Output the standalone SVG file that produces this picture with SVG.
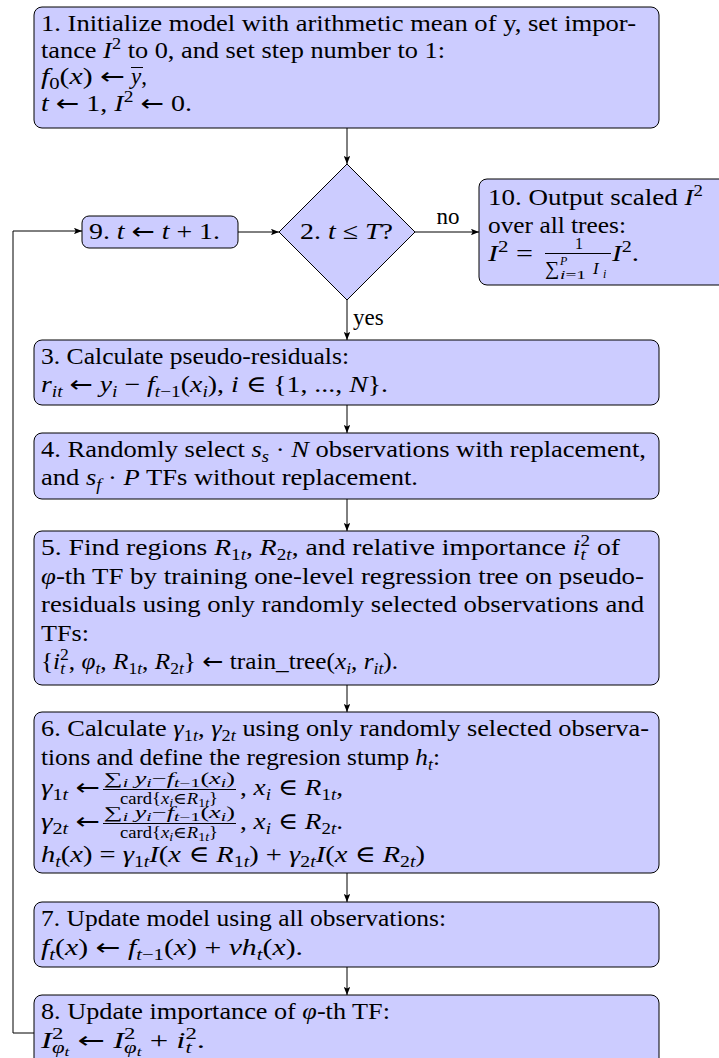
<svg xmlns="http://www.w3.org/2000/svg" width="719" height="1058" viewBox="0 0 719 1058">
<style>
.bx{fill:#ccccff;stroke:#000;stroke-width:1}
.t{font-family:"Liberation Serif","Times New Roman","DejaVu Serif",serif;font-size:23px;fill:#000}
.f{font-family:"Liberation Serif","Times New Roman","DejaVu Serif",serif;font-size:16px;fill:#000}
.i{font-style:italic}
.ar{font-family:"DejaVu Sans",sans-serif;font-style:normal}
.b{font-size:16px;baseline-shift:-5px}
.p{font-size:16px;baseline-shift:9px}
.bs{font-size:12px;baseline-shift:-3px}
.c{fill:none;stroke:#000;stroke-width:1}
</style>
<defs>
<marker id="ah" viewBox="0 0 10 8" refX="10" refY="4" markerWidth="8" markerHeight="6.4" markerUnits="userSpaceOnUse" orient="auto">
<path d="M0,0 L10,4 L0,8 L2,4 z" fill="#000"/>
</marker>
</defs>

<g id="connectors" class="c">
<path d="M347,128 V164" marker-end="url(#ah)"/>
<path d="M347,300 V340" marker-end="url(#ah)"/>
<path d="M347,405 V433" marker-end="url(#ah)"/>
<path d="M347,499 V531" marker-end="url(#ah)"/>
<path d="M347,685 V712" marker-end="url(#ah)"/>
<path d="M347,873 V902" marker-end="url(#ah)"/>
<path d="M347,967 V995" marker-end="url(#ah)"/>
<path d="M34,1033 H13 V231 H82" marker-end="url(#ah)"/>
<path d="M238,232 H279" marker-end="url(#ah)"/>
<path d="M415,232 H479" marker-end="url(#ah)"/>
</g>
<g id="edge-labels">
<text class="t" x="448" y="224" text-anchor="middle">no</text>
<text class="t" x="353" y="325">yes</text>
</g>

<g id="node-1">
<rect class="bx" x="34" y="7" width="625" height="121" rx="8"/>
<text class="t" x="41" y="31" textLength="595" lengthAdjust="spacingAndGlyphs">1. Initialize model with arithmetic mean of y, set impor-</text>
<text class="t" x="41" y="57.5" textLength="404" lengthAdjust="spacingAndGlyphs">tance <tspan class="i">I</tspan><tspan class="p">2</tspan> to 0, and set step number to 1:</text>
<text class="t" x="41" y="84" textLength="84" lengthAdjust="spacingAndGlyphs"><tspan class="i">f</tspan><tspan class="b">0</tspan>(<tspan class="i">x</tspan>) <tspan class="ar">←</tspan></text>
<text class="t" x="131" y="84"><tspan class="i">y</tspan>,</text>
<line x1="131" y1="67.5" x2="143" y2="67.5" stroke="#000" stroke-width="1"/>
<text class="t" x="41" y="110.5" textLength="151" lengthAdjust="spacingAndGlyphs"><tspan class="i">t</tspan> <tspan class="ar">←</tspan> 1, <tspan class="i">I</tspan><tspan class="p">2</tspan> <tspan class="ar">←</tspan> 0.</text>
</g>

<g id="node-2">
<polygon class="bx" points="347,164 415,232 347,300 279,232"/>
<text class="t" x="300" y="239" textLength="93" lengthAdjust="spacingAndGlyphs">2. <tspan class="i">t</tspan> ≤ <tspan class="i">T</tspan>?</text>
</g>

<g id="node-9">
<rect class="bx" x="82" y="216" width="156" height="32" rx="7"/>
<text class="t" x="89" y="239" textLength="131" lengthAdjust="spacingAndGlyphs">9. <tspan class="i">t</tspan> <tspan class="ar">←</tspan> <tspan class="i">t</tspan> + 1.</text>
</g>

<g id="node-10">
<rect class="bx" x="479" y="179" width="260" height="106" rx="8"/>
<text class="t" x="488" y="205" textLength="215" lengthAdjust="spacingAndGlyphs">10. Output scaled <tspan class="i">I</tspan><tspan class="p">2</tspan></text>
<text class="t" x="488" y="233" textLength="138" lengthAdjust="spacingAndGlyphs">over all trees:</text>
<text class="t" x="488" y="261" textLength="45" lengthAdjust="spacingAndGlyphs"><tspan class="i">I</tspan><tspan class="p">2</tspan> =</text>
<text class="f" x="579" y="249" text-anchor="middle">1</text>
<line x1="545" y1="253.5" x2="611" y2="253.5" stroke="#000" stroke-width="1"/>
<text class="f" x="545" y="275" style="font-size:20px">∑</text>
<text class="f i" x="560" y="265" style="font-size:12px">P</text>
<text class="f" x="560" y="279" style="font-size:13px" textLength="26" lengthAdjust="spacingAndGlyphs"><tspan class="i">i</tspan>=1</text>
<text class="f i" x="593" y="274" style="font-size:17px">I</text>
<text class="f i" x="603" y="278" style="font-size:12px">i</text>
<text class="t" x="612" y="261" textLength="27" lengthAdjust="spacingAndGlyphs"><tspan class="i">I</tspan><tspan class="p">2</tspan>.</text>
</g>

<g id="node-3">
<rect class="bx" x="34" y="340" width="625" height="65" rx="8"/>
<text class="t" x="41" y="364" textLength="308" lengthAdjust="spacingAndGlyphs">3. Calculate pseudo-residuals:</text>
<text class="t" x="41" y="392" textLength="347" lengthAdjust="spacingAndGlyphs"><tspan class="i">r</tspan><tspan class="b i">it</tspan> <tspan class="ar">←</tspan> <tspan class="i">y</tspan><tspan class="b i">i</tspan> − <tspan class="i">f</tspan><tspan class="b"><tspan class="i">t</tspan>−1</tspan>(<tspan class="i">x</tspan><tspan class="b i">i</tspan>), <tspan class="i">i</tspan> ∈ {1, ..., <tspan class="i">N</tspan>}.</text>
</g>

<g id="node-4">
<rect class="bx" x="34" y="433" width="625" height="66" rx="8"/>
<text class="t" x="41" y="457" textLength="605" lengthAdjust="spacingAndGlyphs">4. Randomly select <tspan class="i">s</tspan><tspan class="b i">s</tspan> · <tspan class="i">N</tspan> observations with replacement,</text>
<text class="t" x="41" y="485" textLength="377" lengthAdjust="spacingAndGlyphs">and <tspan class="i">s</tspan><tspan class="b i">f</tspan> · <tspan class="i">P</tspan> TFs without replacement.</text>
</g>

<g id="node-5">
<rect class="bx" x="34" y="531" width="625" height="154" rx="8"/>
<text class="t" x="41" y="555" textLength="579" lengthAdjust="spacingAndGlyphs">5. Find regions <tspan class="i">R</tspan><tspan class="b">1<tspan class="i">t</tspan></tspan>, <tspan class="i">R</tspan><tspan class="b">2<tspan class="i">t</tspan></tspan>, and relative importance <tspan class="i">i</tspan><tspan class="b i">t</tspan><tspan class="p" dx="-4.5">2</tspan> of</text>
<text class="t" x="41" y="583.5" textLength="603" lengthAdjust="spacingAndGlyphs"><tspan class="i">φ</tspan>-th TF by training one-level regression tree on pseudo-</text>
<text class="t" x="41" y="612" textLength="603" lengthAdjust="spacingAndGlyphs">residuals using only randomly selected observations and</text>
<text class="t" x="41" y="640.5" textLength="48" lengthAdjust="spacingAndGlyphs">TFs:</text>
<text class="t" x="41" y="669" textLength="357" lengthAdjust="spacingAndGlyphs">{<tspan class="i">i</tspan><tspan class="b i">t</tspan><tspan class="p" dx="-4.5">2</tspan>, <tspan class="i">φ</tspan><tspan class="b i">t</tspan>, <tspan class="i">R</tspan><tspan class="b">1<tspan class="i">t</tspan></tspan>, <tspan class="i">R</tspan><tspan class="b">2<tspan class="i">t</tspan></tspan>} <tspan class="ar">←</tspan> train_tree(<tspan class="i">x</tspan><tspan class="b i">i</tspan>, <tspan class="i">r</tspan><tspan class="b i">it</tspan>).</text>
</g>

<g id="node-6">
<rect class="bx" x="34" y="712" width="625" height="161" rx="8"/>
<text class="t" x="41" y="736" textLength="608" lengthAdjust="spacingAndGlyphs">6. Calculate <tspan class="i">γ</tspan><tspan class="b">1<tspan class="i">t</tspan></tspan>, <tspan class="i">γ</tspan><tspan class="b">2<tspan class="i">t</tspan></tspan> using only randomly selected observa-</text>
<text class="t" x="41" y="764.5" textLength="399" lengthAdjust="spacingAndGlyphs">tions and define the regresion stump <tspan class="i">h</tspan><tspan class="b i">t</tspan>:</text>
<text class="t" x="41" y="795" textLength="59" lengthAdjust="spacingAndGlyphs"><tspan class="i">γ</tspan><tspan class="b">1<tspan class="i">t</tspan></tspan> <tspan class="ar">←</tspan></text>
<text class="f" x="104" y="784" textLength="131" lengthAdjust="spacingAndGlyphs">∑<tspan class="bs i">i</tspan> <tspan class="i">y</tspan><tspan class="bs i">i</tspan>−<tspan class="i">f</tspan><tspan class="bs"><tspan class="i">t</tspan>−1</tspan>(<tspan class="i">x</tspan><tspan class="bs i">i</tspan>)</text>
<line x1="103" y1="789.5" x2="236" y2="789.5" stroke="#000" stroke-width="1"/>
<text class="f" x="120" y="804" textLength="98" lengthAdjust="spacingAndGlyphs">card{<tspan class="i">x</tspan><tspan class="bs i">i</tspan>∈<tspan class="i">R</tspan><tspan class="bs">1<tspan class="i">t</tspan></tspan>}</text>
<text class="t" x="240" y="795" textLength="103" lengthAdjust="spacingAndGlyphs">, <tspan class="i">x</tspan><tspan class="b i">i</tspan> ∈ <tspan class="i">R</tspan><tspan class="b">1<tspan class="i">t</tspan></tspan>,</text>
<text class="t" x="41" y="829" textLength="59" lengthAdjust="spacingAndGlyphs"><tspan class="i">γ</tspan><tspan class="b">2<tspan class="i">t</tspan></tspan> <tspan class="ar">←</tspan></text>
<text class="f" x="104" y="818" textLength="131" lengthAdjust="spacingAndGlyphs">∑<tspan class="bs i">i</tspan> <tspan class="i">y</tspan><tspan class="bs i">i</tspan>−<tspan class="i">f</tspan><tspan class="bs"><tspan class="i">t</tspan>−1</tspan>(<tspan class="i">x</tspan><tspan class="bs i">i</tspan>)</text>
<line x1="103" y1="823.5" x2="236" y2="823.5" stroke="#000" stroke-width="1"/>
<text class="f" x="120" y="838" textLength="98" lengthAdjust="spacingAndGlyphs">card{<tspan class="i">x</tspan><tspan class="bs i">i</tspan>∈<tspan class="i">R</tspan><tspan class="bs">1<tspan class="i">t</tspan></tspan>}</text>
<text class="t" x="240" y="829" textLength="103" lengthAdjust="spacingAndGlyphs">, <tspan class="i">x</tspan><tspan class="b i">i</tspan> ∈ <tspan class="i">R</tspan><tspan class="b">2<tspan class="i">t</tspan></tspan>.</text>
<text class="t" x="41" y="862" textLength="384" lengthAdjust="spacingAndGlyphs"><tspan class="i">h</tspan><tspan class="b i">t</tspan>(<tspan class="i">x</tspan>) = <tspan class="i">γ</tspan><tspan class="b">1<tspan class="i">t</tspan></tspan><tspan class="i">I</tspan>(<tspan class="i">x</tspan> ∈ <tspan class="i">R</tspan><tspan class="b">1<tspan class="i">t</tspan></tspan>) + <tspan class="i">γ</tspan><tspan class="b">2<tspan class="i">t</tspan></tspan><tspan class="i">I</tspan>(<tspan class="i">x</tspan> ∈ <tspan class="i">R</tspan><tspan class="b">2<tspan class="i">t</tspan></tspan>)</text>
</g>

<g id="node-7">
<rect class="bx" x="34" y="902" width="625" height="65" rx="8"/>
<text class="t" x="41" y="926" textLength="405" lengthAdjust="spacingAndGlyphs">7. Update model using all observations:</text>
<text class="t" x="41" y="954.5" textLength="262" lengthAdjust="spacingAndGlyphs"><tspan class="i">f</tspan><tspan class="b i">t</tspan>(<tspan class="i">x</tspan>) <tspan class="ar">←</tspan> <tspan class="i">f</tspan><tspan class="b"><tspan class="i">t</tspan>−1</tspan>(<tspan class="i">x</tspan>) + <tspan class="i">νh</tspan><tspan class="b i">t</tspan>(<tspan class="i">x</tspan>).</text>
</g>

<g id="node-8">
<rect class="bx" x="34" y="995" width="625" height="80" rx="8"/>
<text class="t" x="41" y="1019" textLength="349" lengthAdjust="spacingAndGlyphs">8. Update importance of <tspan class="i">φ</tspan>-th TF:</text>
<text class="t" x="41" y="1047.5" textLength="164" lengthAdjust="spacingAndGlyphs"><tspan class="i">I</tspan><tspan class="p">2</tspan><tspan class="b" dx="-8"><tspan class="i">φ</tspan><tspan class="bs i">t</tspan></tspan> <tspan class="ar">←</tspan> <tspan class="i">I</tspan><tspan class="p">2</tspan><tspan class="b" dx="-8"><tspan class="i">φ</tspan><tspan class="bs i">t</tspan></tspan> + <tspan class="i">i</tspan><tspan class="b i">t</tspan><tspan class="p" dx="-4.5">2</tspan>.</text>
</g>
</svg>
